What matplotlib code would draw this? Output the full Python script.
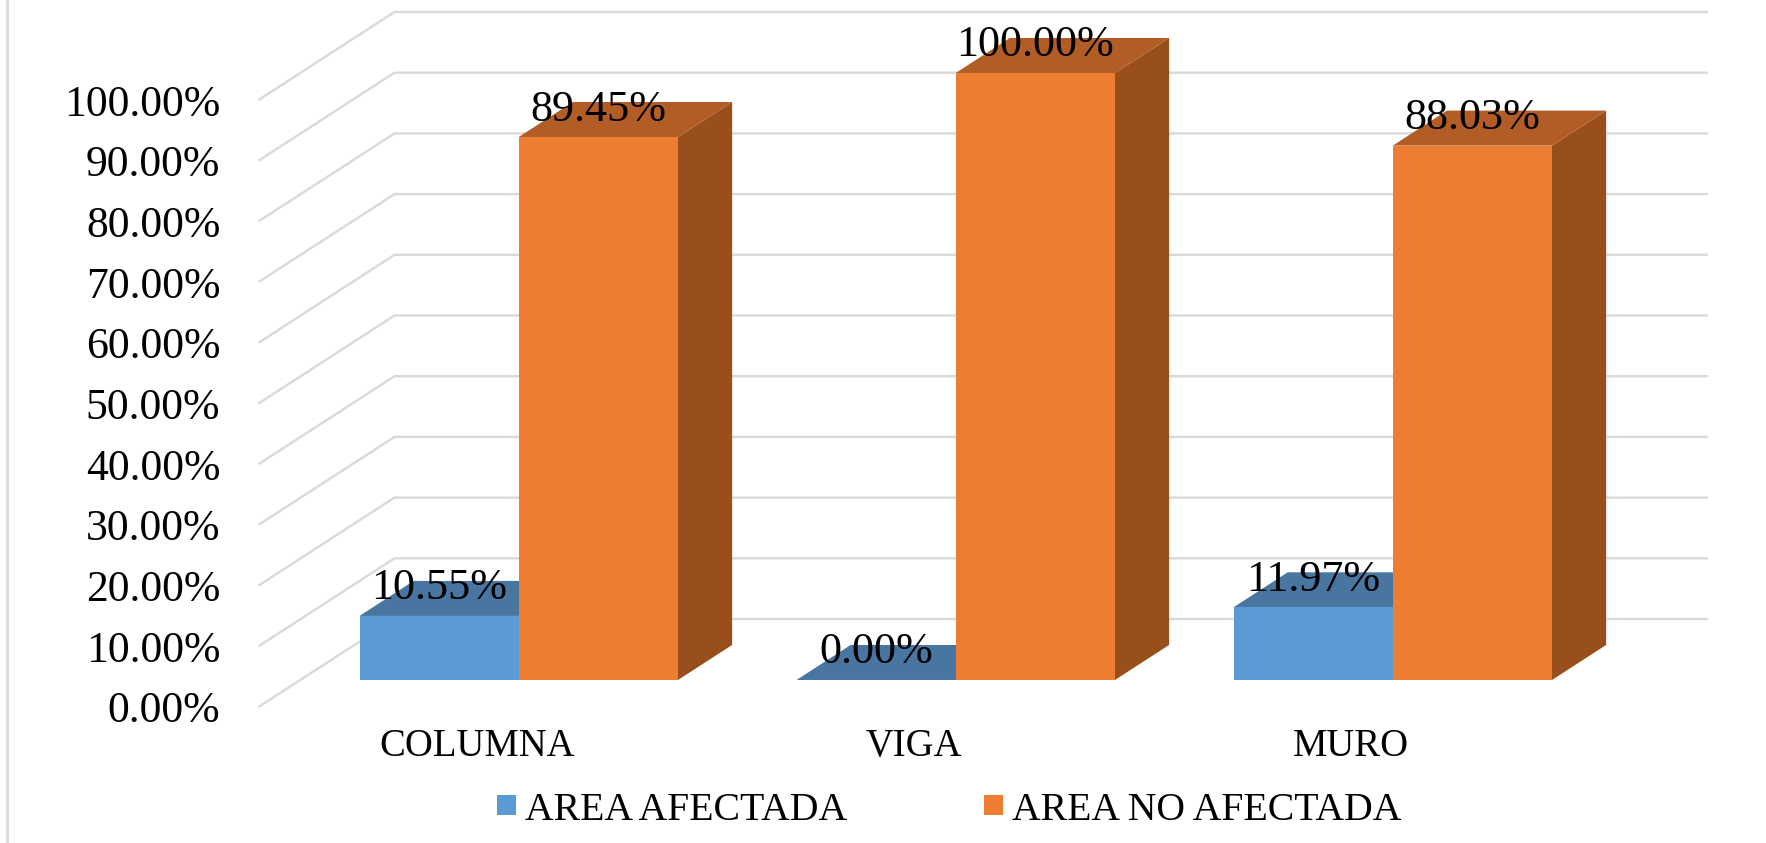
import matplotlib
matplotlib.use("Agg")
import matplotlib.pyplot as plt
from matplotlib.lines import Line2D
from matplotlib.patches import Patch, Polygon

categories = ["COLUMNA", "VIGA", "MURO"]
area_afectada = [10.55, 0.00, 11.97]
area_no_afectada = [89.45, 100.00, 88.03]
series_names = ["AREA AFECTADA", "AREA NO AFECTADA"]
y_ticks = [0, 10, 20, 30, 40, 50, 60, 70, 80, 90, 100]

W, H = 1766, 843
LEFT, RIGHT = 258.5, 1569.5
BLUE, BLUE_TOP = "#5B9BD5", "#4876A1"
ORANGE, ORANGE_TOP, ORANGE_SIDE = "#ED7D31", "#B25D25", "#984F1C"
GRID = "#D9D9D9"
SERIF = "Liberation Serif"

fig = plt.figure(figsize=(W / 100, H / 100), dpi=100, facecolor="white")
# The axes rectangle is the front plane of the oblique 3D box.
ax = fig.add_axes([LEFT / W, 1 - 707 / H, (RIGHT - LEFT) / W, (707 - 100) / H])
ax.set_xlim(-0.5, 2.5)
ax.set_ylim(0, 100)
ax.set_facecolor("none")

# Oblique projection: screen shift of the box back plane, in data units.
DX = 136 / ((RIGHT - LEFT) / 3)
DY = 88 / ((707 - 100) / 100)


def project(x, v, depth):
    return x + depth * DX, v + depth * DY


# Walls: each gridline runs up the side wall, then along the back wall.
for v in y_ticks:
    xs, ys = zip(project(-0.5, v, 0), project(-0.5, v, 1), project(2.505, v, 1))
    ax.plot(xs, ys, color=GRID, lw=1.7, clip_on=False, zorder=1,
            solid_joinstyle="miter", solid_capstyle="butt")

BAR_W = 0.3644
FRONT, BACK = 0.307, 0.705


def bar3d(x0, value, front, top, side, z):
    x1 = x0 + BAR_W
    a = project(x0, value, FRONT)
    b = project(x1, value, FRONT)
    c = project(x1, value, BACK)
    d = project(x0, value, BACK)
    e = project(x1, 0, FRONT)
    f = project(x1, 0, BACK)
    g = project(x0, 0, FRONT)
    if side is not None:
        ax.add_patch(Polygon([e, f, c, b], fc=side, ec="none", zorder=z, clip_on=False))
    ax.add_patch(Polygon([a, b, c, d], fc=top, ec="none", zorder=z, clip_on=False))
    if value > 0:
        ax.bar(g[0], b[1] - g[1], BAR_W, bottom=g[1], align="edge",
               color=front, zorder=z + 0.1, clip_on=False)
    return (a[0] + b[0]) / 2, a[1]


label_anchors = []
for i, (blue, orange) in enumerate(zip(area_afectada, area_no_afectada)):
    label_anchors.append((bar3d(i - BAR_W, blue, BLUE, BLUE_TOP, None, 3), blue))
    label_anchors.append((bar3d(i, orange, ORANGE, ORANGE_TOP, ORANGE_SIDE, 4), orange))

for (x, y), value in label_anchors:
    ax.annotate(f"{value:.2f}%", (x, y), xytext=(0, 19.8), textcoords="offset points",
                ha="center", va="center", family=SERIF, fontsize=31.8,
                color="black", zorder=6, annotation_clip=False)

ax.set_xticks(range(len(categories)), categories)
ax.set_yticks(y_ticks, [f"{v:.2f}%" for v in y_ticks])
ax.tick_params(axis="both", length=0, labelcolor="black")
ax.tick_params(axis="y", pad=27.5, labelsize=31.5)
ax.tick_params(axis="x", pad=15, labelsize=27.8)
for lab in ax.get_xticklabels() + ax.get_yticklabels():
    lab.set_family(SERIF)
for spine in ax.spines.values():
    spine.set_visible(False)

handles = [Patch(fc=BLUE, ec="none"), Patch(fc=ORANGE, ec="none")]
fig.legend(handles, series_names, loc="center", bbox_to_anchor=(949 / W, 1 - 810 / H),
           ncol=2, frameon=False, borderpad=0, borderaxespad=0,
           handlelength=0.48, handleheight=0.41, handletextpad=0.22, columnspacing=3.45,
           prop={"family": SERIF, "size": 28.6})

# Thin frame edge on the left of the chart area.
fig.add_artist(Line2D([7.5 / W, 7.5 / W], [0, 1], color=GRID, lw=2))

fig.savefig("out.png", dpi=100, facecolor="white")
